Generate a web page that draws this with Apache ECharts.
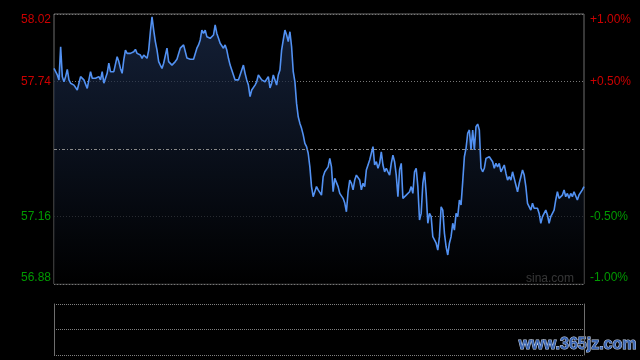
<!DOCTYPE html>
<html><head><meta charset="utf-8">
<script src="https://cdn.jsdelivr.net/npm/echarts@6/dist/echarts.min.js"></script>
<style>html,body{margin:0;padding:0;background:#000;}#c{width:640px;height:360px;}</style>
</head><body><div id="c"></div>
<script>
const prevClose = 57.45;
const leftTickLabels = ['56.88', '57.16', '', '57.74', '58.02'];
const rightTickLabels = ['-1.00%', '-0.50%', '', '+0.50%', '+1.00%'];
const prices = [
57.793,57.786,57.765,57.744,57.885,57.758,57.736,57.758,57.789,57.744,
57.730,57.736,57.722,57.715,57.701,57.730,57.758,57.751,57.744,57.736,
57.708,57.744,57.779,57.751,57.744,57.751,57.744,57.758,57.744,57.779,
57.730,57.736,57.772,57.815,57.779,57.772,57.779,57.772,57.843,57.822,
57.793,57.772,57.829,57.871,57.857,57.864,57.857,57.864,57.864,57.874,
57.857,57.864,57.850,57.836,57.850,57.843,57.836,57.871,57.949,58.012,
57.956,57.907,57.871,57.822,
57.807,57.793,57.815,57.822,57.879,57.822,57.829,57.807,57.815,57.822,
57.832,57.836,57.879,57.885,57.893,57.885,57.837,57.836,57.832,57.836,
57.832,57.829,57.879,57.893,57.914,57.956,57.942,57.956,57.928,57.935,
57.921,57.914,57.935,57.978,57.942,57.921,57.900,57.893,57.879,57.893,
57.871,57.836,57.807,57.786,57.765,57.744,57.751,57.744,57.751,57.786,
57.807,57.772,57.744,57.722,57.673,57.701,57.708,57.722,57.736,57.765,
57.772,57.744,57.751,57.736,
57.736,57.758,57.710,57.730,57.765,57.744,57.722,57.765,57.786,57.871,
57.914,57.956,57.935,57.907,57.949,57.885,57.779,57.736,57.644,57.587,
57.559,57.538,57.510,57.474,57.460,57.432,57.374,57.290,57.247,57.247,
57.290,57.276,57.283,57.254,57.332,57.353,57.347,57.374,57.410,57.374,
57.268,57.325,57.318,57.290,57.261,57.268,57.240,57.220,57.183,57.268,
57.318,57.304,57.276,57.318,57.339,57.347,57.318,57.276,57.304,57.290,
57.361,57.382,57.403,57.432,
57.460,57.382,57.396,57.368,57.389,57.438,57.382,57.353,57.368,57.353,
57.339,57.389,57.424,57.396,57.339,57.247,57.361,57.389,57.240,57.233,
57.254,57.261,57.268,57.290,57.261,57.353,57.368,57.290,57.148,57.176,
57.304,57.353,57.261,57.134,57.176,57.162,57.077,57.063,57.049,57.020,
57.077,57.204,57.190,57.091,57.034,56.999,57.049,57.077,57.134,57.105,
57.176,57.162,57.233,57.212,57.311,57.417,57.453,57.517,57.531,57.446,
57.531,57.446,57.545,57.556,
57.531,57.369,57.353,57.368,57.410,57.403,57.417,57.424,57.396,57.368,
57.389,57.374,57.389,57.353,57.361,57.382,57.347,57.318,57.332,57.318,
57.353,57.325,57.297,57.268,57.304,57.332,57.361,57.339,57.290,57.219,
57.226,57.190,57.219,57.198,57.204,57.198,57.176,57.134,57.162,57.176,
57.190,57.169,57.134,57.162,57.155,57.190,57.233,57.268,57.240,57.247,
57.254,57.276,57.247,57.261,57.240,57.261,57.247,57.268,57.261,57.233,
57.254,57.261,57.276,57.290
];
const categories = prices.map((_, i) => String(i));
const pct = prices.map(p => (p / prevClose - 1) * 100);

const FONT = 'Arial, "Liberation Sans", sans-serif';
const RED = '#cc0000', GREEN = '#009900';
const colorFor = (v) => v > 0 ? RED : (v < 0 ? GREEN : '#888');
const tickIdx = (v) => Math.round((v + 1) / 0.5);

const chart = echarts.init(document.getElementById('c'), null, {renderer: 'canvas'});
chart.setOption({
  backgroundColor: '#000',
  animation: false,
  grid: [
    {left: 54, right: 56, top: 14, bottom: 76, show: true, borderColor: '#6e6e6e', borderWidth: 1, backgroundColor: 'transparent'},
    {left: 54, right: 56, top: 304, height: 51, show: false}
  ],
  xAxis: [
    {type: 'category', gridIndex: 0, data: categories, boundaryGap: false,
     axisLine: {show: false}, axisTick: {show: false}, axisLabel: {show: false}, splitLine: {show: false}},
    {type: 'category', gridIndex: 1, data: categories, boundaryGap: false,
     axisLine: {show: false}, axisTick: {show: false}, axisLabel: {show: false}, splitLine: {show: false}}
  ],
  yAxis: [
    {type: 'value', gridIndex: 0, position: 'left', min: -1, max: 1, interval: 0.5,
     axisLine: {show: false}, axisTick: {show: false},
     axisLabel: {margin: 3, fontSize: 12, fontFamily: FONT,
       formatter: (v) => leftTickLabels[tickIdx(v)] || '',
       color: (v) => colorFor(v),
       verticalAlignMinLabel: 'bottom', verticalAlignMaxLabel: 'top'},
     splitLine: {show: true, lineStyle: {color: ['#777', '#777', 'rgba(0,0,0,0)', '#777', '#777'], width: 1, type: [1, 2]}}},
    {type: 'value', gridIndex: 0, position: 'right', min: -1, max: 1, interval: 0.5,
     axisLine: {show: false}, axisTick: {show: false},
     axisLabel: {margin: 6, fontSize: 12, fontFamily: FONT,
       formatter: (v) => rightTickLabels[tickIdx(v)] || '',
       color: (v) => colorFor(v),
       verticalAlignMinLabel: 'bottom', verticalAlignMaxLabel: 'top'},
     splitLine: {show: false}},
    {type: 'value', gridIndex: 1, position: 'left', min: 0, max: 2, interval: 1,
     axisLine: {show: true, lineStyle: {color: '#6e6e6e'}}, axisTick: {show: false}, axisLabel: {show: false},
     splitLine: {show: true, lineStyle: {color: '#808080', width: 1, type: [1, 1]}}},
    {type: 'value', gridIndex: 1, position: 'right', min: 0, max: 2, interval: 1,
     axisLine: {show: true, lineStyle: {color: '#6e6e6e'}}, axisTick: {show: false}, axisLabel: {show: false},
     splitLine: {show: false}}
  ],
  series: [
    {type: 'line', xAxisIndex: 0, yAxisIndex: 0, data: pct, symbol: 'none', smooth: false,
     lineStyle: {color: '#5291f2', width: 1.6},
     areaStyle: {origin: 'start', color: new echarts.graphic.LinearGradient(0, 0, 0, 1, [
       {offset: 0, color: '#1c2d4e'}, {offset: 1, color: '#000000'}])},
     markLine: {silent: true, symbol: ['none', 'none'], label: {show: false},
       lineStyle: {color: '#8a8a8a', width: 1, type: [3, 2, 1, 2]},
       data: [{yAxis: 0}]}},
    {type: 'line', xAxisIndex: 1, yAxisIndex: 2, data: [], symbol: 'none'}
  ],
  graphic: [
    {type: 'text', right: 66, top: 273, style: {text: 'sina.com', fill: '#b0b0b0', font: '12px ' + FONT}},
    {type: 'text', right: 3, top: 336, style: {text: 'www.365jz.com', fill: '#3b66b3', stroke: '#c8d4e8', lineWidth: 1, font: 'bold 16px ' + FONT}}
  ]
});
</script></body></html>
